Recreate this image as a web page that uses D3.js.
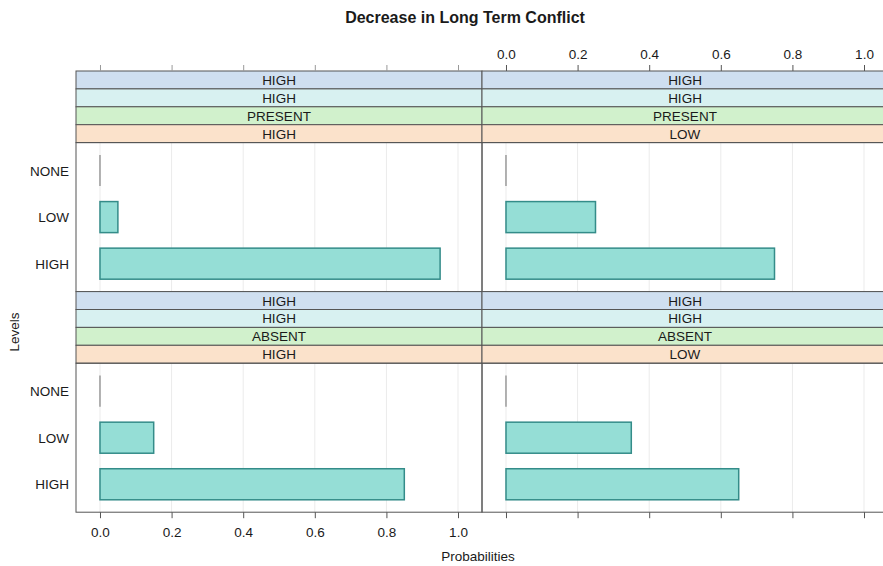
<!DOCTYPE html>
<html>
<head>
<meta charset="utf-8">
<script src="https://cdn.jsdelivr.net/npm/d3@7"></script>
<style>
  body { margin: 0; background: #fff; }
  text { font-family: "Liberation Sans", Arial, sans-serif; fill: #1a1a1a; }
</style>
</head>
<body>
<div id="chart"></div>
<script>
// levels on the y axis (top to bottom)
var levels = ["NONE", "LOW", "HIGH"];
var ticks = [0, 0.2, 0.4, 0.6, 0.8, 1.0];

// strip labels for each panel, outermost first
var stripsTL = ["HIGH", "HIGH", "PRESENT", "HIGH"];
var stripsTR = ["HIGH", "HIGH", "PRESENT", "LOW"];
var stripsBL = ["HIGH", "HIGH", "ABSENT", "HIGH"];
var stripsBR = ["HIGH", "HIGH", "ABSENT", "LOW"];

// probabilities per panel, same order as levels
var valuesTL = [0, 0.05, 0.95];
var valuesTR = [0, 0.25, 0.75];
var valuesBL = [0, 0.15, 0.85];
var valuesBR = [0, 0.35, 0.65];

var stripColors = ["#cfdff0", "#d8f1f1", "#d1f1cc", "#fbe2cb"];

var w = 883, h = 566;
var left = 76, panelW = 406;
var stripH = 17.9;
var panelH = 149;

var svg = d3.select("#chart")
  .append("svg")
  .attr("width", w)
  .attr("height", h);

var panels = [
  {col: 0, row: 0, strips: stripsTL, values: valuesTL},
  {col: 1, row: 0, strips: stripsTR, values: valuesTR},
  {col: 0, row: 1, strips: stripsBL, values: valuesBL},
  {col: 1, row: 1, strips: stripsBR, values: valuesBR}
];

var top0 = 71;
var blockH = 4 * stripH + panelH;

panels.forEach(function(p) {
  var x0 = left + p.col * panelW;
  var y0 = top0 + p.row * blockH;
  var py = y0 + 4 * stripH;

  var x = d3.scaleLinear()
    .domain([-0.067, 1.067])
    .range([x0, x0 + panelW]);

  var y = d3.scalePoint()
    .domain(levels)
    .range([py, py + panelH])
    .padding(0.6);

  var bh = y.step() * 2 / 3;
  var g = svg.append("g");

  // grid
  g.selectAll("line.grid")
    .data(ticks)
    .enter()
    .append("line")
    .attr("x1", function(d) { return x(d); })
    .attr("x2", function(d) { return x(d); })
    .attr("y1", py)
    .attr("y2", py + panelH)
    .style("stroke", "#ebebeb")
    .style("stroke-width", 1);

  // bars (non-zero)
  var rows = levels.map(function(d, i) { return {level: d, value: p.values[i]}; });
  g.selectAll("rect.bar")
    .data(rows.filter(function(d) { return d.value > 0; }))
    .enter()
    .append("rect")
    .attr("x", x(0))
    .attr("y", function(d) { return y(d.level) - bh / 2; })
    .attr("width", function(d) { return x(d.value) - x(0); })
    .attr("height", bh)
    .style("fill", "#95ded6")
    .style("stroke", "#348c89")
    .style("stroke-width", 1.5);

  // zero-width bars show as a thin line
  g.selectAll("line.zero")
    .data(rows.filter(function(d) { return d.value === 0; }))
    .enter()
    .append("line")
    .attr("x1", function(d) { return x(d.value); })
    .attr("x2", function(d) { return x(d.value); })
    .attr("y1", function(d) { return y(d.level) - bh / 2; })
    .attr("y2", function(d) { return y(d.level) + bh / 2; })
    .style("stroke", "#9a9a9a")
    .style("stroke-width", 1.5);

  // strips
  p.strips.forEach(function(s, i) {
    g.append("rect")
      .attr("x", x0)
      .attr("y", y0 + i * stripH)
      .attr("width", panelW)
      .attr("height", stripH)
      .style("fill", stripColors[i])
      .style("stroke", "#555")
      .style("stroke-width", 1);
    g.append("text")
      .attr("x", x0 + panelW / 2)
      .attr("y", y0 + i * stripH + stripH / 2 + 5)
      .attr("text-anchor", "middle")
      .style("font-size", "13.5px")
      .text(s);
  });

  // panel border
  g.append("rect")
    .attr("x", x0)
    .attr("y", py)
    .attr("width", panelW)
    .attr("height", panelH)
    .style("fill", "none")
    .style("stroke", "#555")
    .style("stroke-width", 1);

  // y labels on left column
  if (p.col === 0) {
    g.selectAll("text.ylab")
      .data(levels)
      .enter()
      .append("text")
      .attr("x", left - 7)
      .attr("y", function(d) { return y(d) + 5; })
      .attr("text-anchor", "end")
      .style("font-size", "13.5px")
      .text(function(d) { return d; });
  }

  // top axis ticks
  if (p.row === 0) {
    var ax = d3.axisTop(x).tickValues(ticks).tickSize(6).tickSizeOuter(0)
      .tickFormat(p.col === 1 ? d3.format(".1f") : function() { return ""; });
    var ga = svg.append("g")
      .attr("transform", "translate(0," + y0 + ")")
      .call(ax);
    ga.select(".domain").remove();
    ga.selectAll("line").style("stroke", p.col === 1 ? "#555" : "#999");
    ga.selectAll("text").style("font-size", "13.5px").attr("dy", "-0.2em")
      .style("font-family", "Liberation Sans, Arial, sans-serif").style("fill", "#1a1a1a");
  }

  // bottom axis ticks
  if (p.row === 1) {
    var bx = d3.axisBottom(x).tickValues(ticks).tickSize(6).tickSizeOuter(0)
      .tickFormat(p.col === 0 ? d3.format(".1f") : function() { return ""; });
    var gb = svg.append("g")
      .attr("transform", "translate(0," + (py + panelH) + ")")
      .call(bx);
    gb.select(".domain").remove();
    gb.selectAll("line").style("stroke", "#555");
    gb.selectAll("text").style("font-size", "13.5px").attr("dy", "1.2em")
      .style("font-family", "Liberation Sans, Arial, sans-serif").style("fill", "#1a1a1a");
  }
});

// title and axis titles
svg.append("text")
  .attr("x", 465)
  .attr("y", 23)
  .attr("text-anchor", "middle")
  .style("font-size", "16px")
  .style("font-weight", "bold")
  .text("Decrease in Long Term Conflict");

svg.append("text")
  .attr("transform", "translate(19,332) rotate(-90)")
  .attr("text-anchor", "middle")
  .style("font-size", "13.5px")
  .text("Levels");

svg.append("text")
  .attr("x", 478)
  .attr("y", 561)
  .attr("text-anchor", "middle")
  .style("font-size", "13.5px")
  .text("Probabilities");
</script>
</body>
</html>
